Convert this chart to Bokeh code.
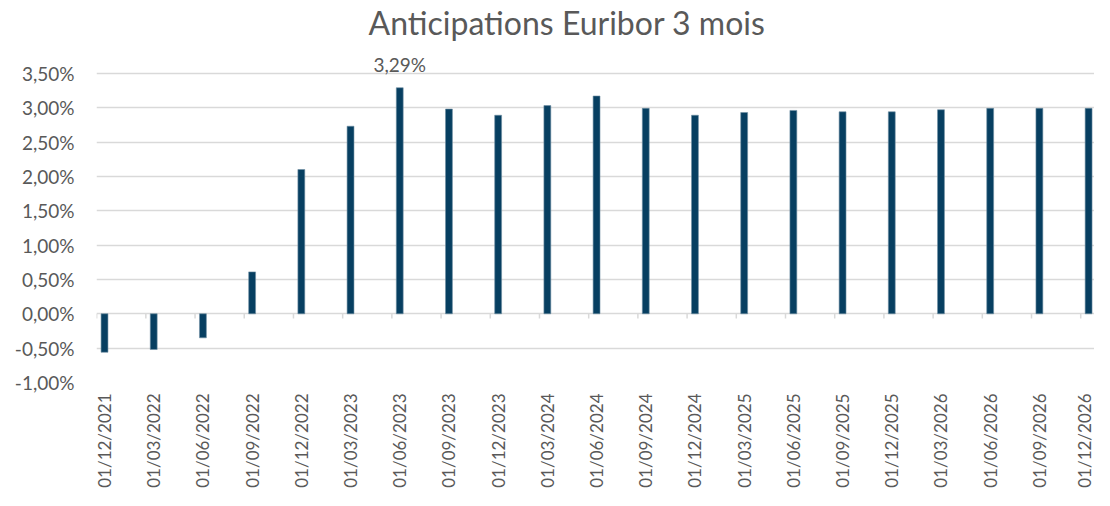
from bokeh.plotting import figure
from bokeh.models import FixedTicker, ColumnDataSource, Label
from bokeh.embed import file_html
from bokeh.resources import INLINE
from math import pi

dates = ["01/12/2021", "01/03/2022", "01/06/2022", "01/09/2022", "01/12/2022",
         "01/03/2023", "01/06/2023", "01/09/2023", "01/12/2023", "01/03/2024",
         "01/06/2024", "01/09/2024", "01/12/2024", "01/03/2025", "01/06/2025",
         "01/09/2025", "01/12/2025", "01/03/2026", "01/06/2026", "01/09/2026",
         "01/12/2026"]
rates = [-0.56, -0.52, -0.35, 0.61, 2.10, 2.73, 3.29, 2.98, 2.89, 3.03,
         3.17, 2.99, 2.89, 2.93, 2.96, 2.94, 2.94, 2.97, 2.99, 2.99, 2.99]
y_ticks = [-1.0, -0.5, 0.0, 0.5, 1.0, 1.5, 2.0, 2.5, 3.0, 3.5]
y_labels = ["-1,00%", "-0,50%", "0,00%", "0,50%", "1,00%", "1,50%", "2,00%",
            "2,50%", "3,00%", "3,50%"]
title = "Anticipations Euribor 3 mois"
peak_label = "3,29%"

FONT = "Lato"
GREY = "#595959"
BAR = "#073f61"
GRID = "#d9d9d9"

xs = list(range(len(dates)))
src = ColumnDataSource(dict(x=xs, top=rates))

p = figure(width=1094, height=490, output_backend="svg", toolbar_location=None,
           x_range=(-0.163, len(dates) - 1 + 0.12), y_range=(-1.0, 4.56),
           min_border_left=96, min_border_right=0, min_border_top=0,
           min_border_bottom=0)
p.outline_line_color = None

# grid
p.xgrid.grid_line_color = None
p.ygrid.grid_line_color = GRID
p.ygrid.grid_line_width = 1.5
p.ygrid.ticker = FixedTicker(ticks=y_ticks)

# y axis
p.yaxis.ticker = FixedTicker(ticks=y_ticks)
p.yaxis.major_label_overrides = {t: l for t, l in zip(y_ticks, y_labels)}
p.yaxis.axis_line_color = None
p.yaxis.major_tick_line_color = None
p.yaxis.minor_tick_line_color = None
p.yaxis.major_label_standoff = 16
p.yaxis.major_label_text_font = FONT
p.yaxis.major_label_text_font_size = "19px"
p.yaxis.major_label_text_color = GREY

# x axis
p.xaxis.ticker = FixedTicker(ticks=xs)
p.xaxis.major_label_overrides = {i: d for i, d in zip(xs, dates)}
p.xaxis.major_label_orientation = pi / 2
p.xaxis.axis_line_color = None
p.xaxis.major_tick_line_color = None
p.xaxis.minor_tick_line_color = None
p.xaxis.major_label_standoff = 5
p.xaxis.major_label_text_font = FONT
p.xaxis.major_label_text_font_size = "17px"
p.xaxis.major_label_text_color = GREY

# small category tick marks on the zero line
tick_x = [i - 0.16 for i in xs] + [xs[-1] + 0.84]
p.segment(x0=tick_x, y0=[0] * len(tick_x), x1=tick_x, y1=[-0.07] * len(tick_x),
          line_color=GRID, line_width=1.5)

p.vbar(x="x", top="top", bottom=0, width=0.14, source=src,
       fill_color=BAR, line_color="#6f8ea3", line_width=0.6)

peak_i = rates.index(max(rates))
p.add_layout(Label(x=xs[peak_i], y=rates[peak_i], text=peak_label,
                   text_align="center", text_baseline="bottom", y_offset=12,
                   text_font=FONT, text_font_size="19px", text_color=GREY))

# chart title, drawn inside the top of the frame
p.add_layout(Label(x=9.4, y=4.24, text=title, text_align="center",
                   text_baseline="middle", text_font=FONT,
                   text_font_size="32px", text_color=GREY))

open("out.html", "w").write(file_html(p, INLINE))
